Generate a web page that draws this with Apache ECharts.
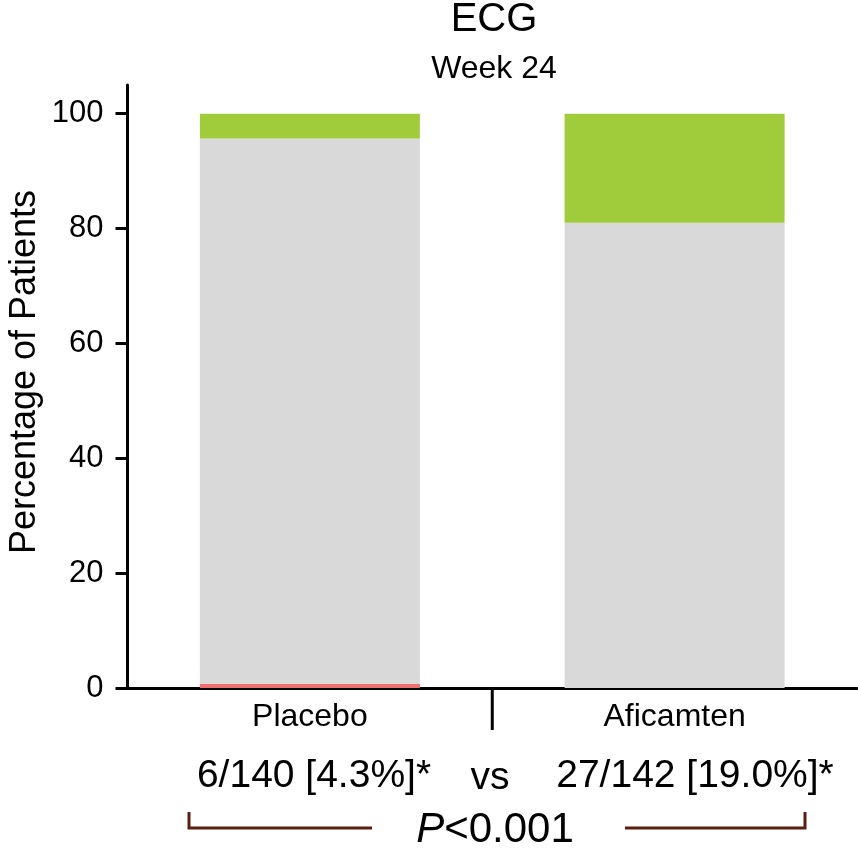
<!DOCTYPE html>
<html>
<head>
<meta charset="utf-8">
<script src="https://cdn.jsdelivr.net/npm/echarts@6/dist/echarts.min.js"></script>
<style>
html, body { margin: 0; padding: 0; background: #fff; }
#main { width: 858px; height: 848px; }
</style>
</head>
<body>
<div id="main"></div>
<script>
// data
const categories = ['Placebo', 'Aficamten'];
const worsened = [0.7, 0];       // red sliver
const unchanged = [95.0, 81.0];  // grey
const improved = [4.3, 19.0];    // green
const yTicks = [0, 20, 40, 60, 80, 100];
const countLabels = ['6/140 [4.3%]*', '27/142 [19.0%]*'];
const pValue = '<0.001';

const font = '"Liberation Sans", Arial, sans-serif';
const chart = echarts.init(document.getElementById('main'));

function segment(name, data, color) {
    return {
        name: name,
        type: 'bar',
        stack: 'total',
        data: data,
        barWidth: 220,
        silent: true,
        itemStyle: { color: color }
    };
}

chart.setOption({
    animation: false,
    title: {
        text: 'ECG',
        subtext: 'Week 24',
        left: 494,
        top: 0,
        padding: 0,
        textAlign: 'center',
        itemGap: 13,
        textStyle: { fontSize: 40, fontWeight: 'normal', color: '#000', fontFamily: font },
        subtextStyle: { fontSize: 32, color: '#000', fontFamily: font }
    },
    grid: { left: 127.5, right: 1, top: 85, bottom: 160 },
    xAxis: {
        type: 'category',
        data: categories,
        axisLine: { lineStyle: { color: '#000', width: 3 } },
        axisTick: { show: false },
        axisLabel: { color: '#000', fontSize: 32, fontFamily: font, margin: 13 }
    },
    yAxis: {
        type: 'value',
        min: 0,
        max: 105,
        interval: 20,
        splitLine: { show: false },
        axisLine: { show: true, lineStyle: { color: '#000', width: 3 } },
        axisTick: { show: true, length: 12, customValues: yTicks, lineStyle: { color: '#000', width: 3 } },
        axisLabel: { customValues: yTicks, color: '#000', fontSize: 31, fontFamily: font, margin: 24 }
    },
    series: [
        segment('Worsened', worsened, '#F07070'),
        segment('No change', unchanged, '#D9D9D9'),
        segment('Improved', improved, '#A0CB3A')
    ]
});

// tick between the two groups, below the x axis
const x0 = chart.convertToPixel({ xAxisIndex: 0 }, 0);
const x1 = chart.convertToPixel({ xAxisIndex: 0 }, 1);
const mid = (x0 + x1) / 2;
const yBase = chart.convertToPixel({ yAxisIndex: 0 }, 0);
const bracketColor = '#5B1F14';

chart.setOption({
    graphic: [
        {
            type: 'line',
            shape: { x1: mid, y1: yBase, x2: mid, y2: yBase + 42 },
            style: { stroke: '#000', lineWidth: 3 }
        },
        {
            type: 'text',
            x: 25, y: 372,
            rotation: Math.PI / 2,
            style: { text: 'Percentage of Patients', fontSize: 36, fontFamily: font, fill: '#000', align: 'center', verticalAlign: 'middle' }
        },
        {
            type: 'text',
            x: 314, y: 776,
            style: { text: countLabels[0], fontSize: 39, fontFamily: font, fill: '#000', align: 'center', verticalAlign: 'middle' }
        },
        {
            type: 'text',
            x: 490, y: 778,
            style: { text: 'vs', fontSize: 39, fontFamily: font, fill: '#000', align: 'center', verticalAlign: 'middle' }
        },
        {
            type: 'text',
            x: 695, y: 776,
            style: { text: countLabels[1], fontSize: 39, fontFamily: font, fill: '#000', align: 'center', verticalAlign: 'middle' }
        },
        {
            type: 'text',
            x: 495, y: 830,
            style: {
                text: '{i|P}' + pValue,
                fontSize: 42, fontFamily: font, fill: '#000', align: 'center', verticalAlign: 'middle',
                rich: { i: { fontStyle: 'italic', fontSize: 42, fontFamily: font, fill: '#000' } }
            }
        },
        {
            type: 'polyline',
            shape: { points: [[189, 812], [189, 828], [372, 828]] },
            style: { stroke: bracketColor, lineWidth: 3, fill: null }
        },
        {
            type: 'polyline',
            shape: { points: [[625, 828], [805, 828], [805, 812]] },
            style: { stroke: bracketColor, lineWidth: 3, fill: null }
        }
    ]
});
</script>
</body>
</html>
